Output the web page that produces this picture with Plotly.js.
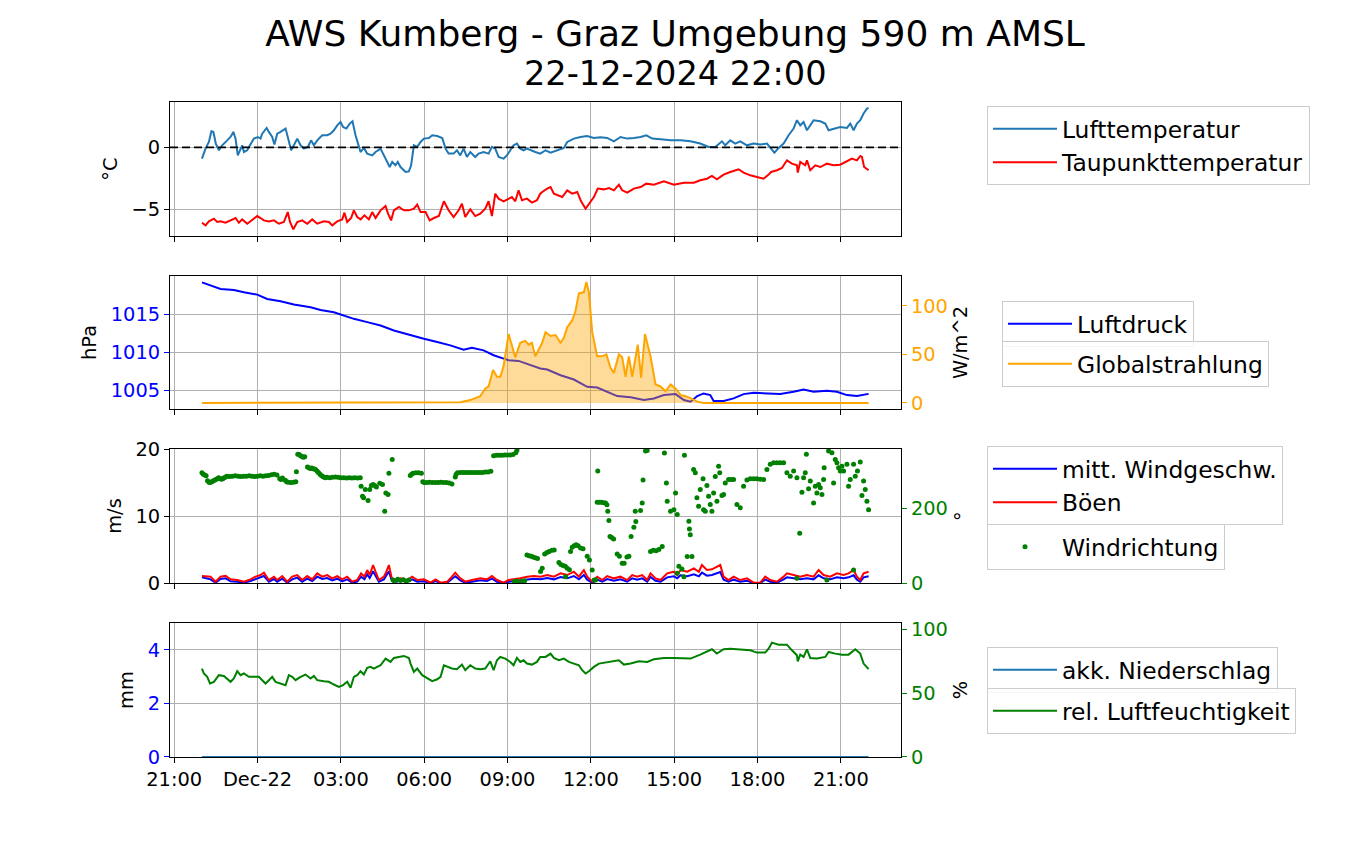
<!DOCTYPE html>
<html>
<head>
<meta charset="utf-8">
<script src="https://cdn.plot.ly/plotly-3.0.1.min.js"></script>
<style>html,body{margin:0;padding:0;background:#fff}#chart{width:1350px;height:850px}</style>
</head>
<body>
<div id="chart"></div>
<script>
// ---- DATA (hours after 2024-12-21 22:00) ----
const tempH = [0,0.13,0.25,0.34,0.41,0.5,0.61,0.73,0.91,1.03,
1.13,1.21,1.29,1.39,1.45,1.51,1.63,1.73,1.87,2.01,
2.11,2.17,2.33,2.41,2.53,2.61,2.71,2.83,3.01,3.09,
3.21,3.31,3.43,3.55,3.67,3.81,3.93,4.03,4.15,4.33,
4.51,4.63,4.75,4.87,4.99,5.08,5.2,5.32,5.42,5.53,
5.65,5.71,5.83,5.95,6.13,6.25,6.43,6.57,6.76,6.85,
6.97,7.05,7.15,7.33,7.45,7.53,7.63,7.75,7.87,7.99,
8.17,8.29,8.47,8.65,8.77,8.88,9.06,9.18,9.3,9.42,
9.54,9.66,9.84,9.96,10.14,10.32,10.44,10.56,10.68,10.86,
10.98,11.22,11.34,11.46,11.58,11.7,11.82,12.0,12.18,12.37,
12.55,12.79,13.03,13.15,13.39,13.63,13.87,14.11,14.35,14.59,
14.83,15.07,15.31,15.55,15.79,16.0,16.21,16.51,16.87,17.23,
17.59,17.94,18.24,18.48,18.72,18.84,19.02,19.2,19.38,19.62,
19.86,20.1,20.34,20.49,20.61,20.76,20.94,21.12,21.3,21.42,
21.54,21.66,21.78,21.9,22.02,22.26,22.44,22.56,22.81,22.98,
23.22,23.34,23.46,23.58,23.7,23.82,23.94,24.0];
const tempV = [-0.91,-0.11,0.43,1.29,1.24,0.30,-0.24,0.16,0.56,0.83,
1.24,0.70,-0.65,-0.11,0.16,-0.38,-0.24,0.16,0.70,0.83,
0.70,1.10,1.56,1.24,0.83,0.22,1.10,1.24,1.51,0.83,
-0.24,0.16,0.70,0.16,-0.11,0.03,0.56,0.16,0.56,0.97,
0.97,1.10,1.37,1.77,2.04,1.64,1.51,1.91,2.10,0.97,
0.16,-0.38,-0.05,-0.51,-0.65,-0.38,-0.11,-0.78,-1.59,-1.18,
-1.45,-1.18,-1.59,-1.99,-1.94,-1.45,0.16,0.03,0.43,0.70,
0.75,0.97,0.91,0.75,-0.11,-0.51,-0.51,-0.24,-0.65,-0.11,
-0.78,-0.38,-0.78,-0.51,-0.38,-0.51,0.03,-0.11,-0.78,-0.91,
-0.65,0.16,0.30,-0.11,-0.24,-0.11,-0.24,-0.38,-0.51,-0.24,
-0.43,-0.24,-0.05,0.43,0.70,0.83,0.91,0.75,0.81,0.75,
0.48,0.83,0.70,0.75,0.83,0.97,0.70,0.65,0.56,0.56,
0.48,0.30,0.03,0.03,0.48,0.16,0.56,0.30,0.48,0.16,
0.30,0.22,0.30,-0.11,-0.43,-0.05,0.30,0.97,1.51,2.18,
1.77,2.04,1.37,1.77,2.18,2.10,1.91,1.37,1.51,1.64,
1.56,1.91,1.37,1.91,2.18,2.72,3.12,3.17];

const dewH = [0,0.13,0.25,0.43,0.55,0.67,0.85,1.03,1.21,1.33,
1.45,1.63,1.81,1.99,2.11,2.23,2.41,2.59,2.77,2.95,
3.09,3.17,3.29,3.43,3.61,3.79,3.97,4.15,4.39,4.57,
4.69,4.87,5.05,5.13,5.23,5.37,5.47,5.59,5.71,5.85,
6.01,6.13,6.25,6.43,6.61,6.70,6.81,6.91,7.09,7.27,
7.45,7.63,7.75,7.87,8.05,8.20,8.35,8.53,8.71,8.88,
9.06,9.24,9.36,9.48,9.66,9.84,10.02,10.20,10.32,10.44,
10.56,10.68,10.86,11.04,11.16,11.28,11.40,11.52,11.70,11.88,
12.06,12.18,12.25,12.43,12.55,12.67,12.79,12.97,13.15,13.33,
13.51,13.65,13.81,13.93,14.11,14.25,14.47,14.65,14.83,15.01,
15.13,15.31,15.55,15.79,16.00,16.27,16.63,16.99,17.35,17.71,
17.94,18.18,18.36,18.54,18.78,19.02,19.32,19.50,19.74,19.98,
20.22,20.40,20.49,20.70,20.88,21.06,21.24,21.42,21.45,21.54,
21.72,21.78,21.90,22.08,22.26,22.50,22.74,22.98,23.22,23.40,
23.58,23.70,23.76,23.84,24.00];
const dewV = [-6.08,-6.29,-5.97,-5.75,-6.02,-5.97,-6.08,-5.89,-5.70,-6.08,
-5.81,-6.16,-5.81,-5.54,-5.70,-5.89,-5.97,-5.89,-6.16,-6.02,
-5.22,-6.02,-6.61,-6.02,-5.89,-6.16,-5.81,-6.16,-5.97,-6.02,
-6.29,-5.97,-5.81,-5.27,-6.02,-5.70,-5.08,-5.62,-5.81,-5.48,
-5.81,-5.22,-5.70,-5.08,-4.73,-5.35,-5.89,-5.08,-4.81,-5.08,
-5.08,-4.95,-4.62,-5.22,-5.22,-5.89,-5.70,-5.54,-4.35,-5.08,
-5.62,-5.08,-4.54,-5.62,-5.00,-5.54,-5.35,-4.95,-4.35,-5.54,
-3.74,-4.14,-4.35,-4.14,-4.01,-4.35,-3.47,-4.27,-4.14,-4.46,
-4.27,-3.74,-3.60,-3.33,-3.20,-3.74,-3.87,-4.01,-3.47,-3.74,
-3.60,-4.35,-4.95,-4.54,-4.01,-3.33,-3.39,-3.28,-3.47,-3.01,
-3.47,-3.66,-3.33,-3.20,-2.93,-3.01,-2.74,-3.01,-2.85,-2.85,
-2.66,-2.53,-2.31,-2.58,-2.20,-1.99,-1.77,-2.04,-2.26,-2.39,
-2.53,-2.20,-1.99,-1.85,-1.67,-1.05,-1.32,-1.45,-2.04,-1.18,
-1.45,-1.05,-1.85,-1.45,-1.59,-1.32,-1.45,-1.40,-1.13,-0.91,
-1.05,-0.70,-0.78,-1.59,-1.85];

const presH = [0,0.31,0.67,1.15,1.51,1.99,2.35,2.83,3.31,3.91,
4.27,4.75,4.99,5.47,5.95,6.43,6.91,7.39,7.99,8.47,
8.94,9.42,9.72,10.14,10.50,10.86,11.04,11.40,11.70,12.18,
12.43,12.91,13.39,13.87,14.23,14.59,14.95,15.43,15.91,16.27,
16.63,17.05,17.35,17.59,17.83,18.06,18.30,18.42,18.78,19.14,
19.50,19.86,20.34,20.82,21.30,21.66,22.02,22.50,22.86,23.22,
23.58,23.94,24.0];
const presV = [1019.25,1018.82,1018.38,1018.25,1017.94,1017.63,1017.06,1016.75,1016.32,1015.96,
1015.61,1015.31,1015.0,1014.43,1013.99,1013.55,1012.89,1012.37,1011.80,1011.36,
1010.92,1010.35,1010.61,1010.26,1009.61,1009.17,1008.95,1008.86,1008.51,1007.85,
1007.72,1006.97,1006.40,1005.44,1005.35,1004.78,1004.21,1004.04,1003.68,1003.90,
1004.34,1004.47,1003.68,1003.46,1004.21,1004.56,1004.34,1003.55,1003.55,1003.90,
1004.47,1004.65,1004.56,1004.47,1004.78,1005.09,1004.78,1004.91,1004.78,1004.34,
1004.21,1004.47,1004.5];

const radH = [0,9.30,9.66,10.02,10.20,10.32,10.48,10.62,10.74,10.86,
11.04,11.16,11.28,11.46,11.64,11.76,11.88,12.00,12.18,12.25,
12.37,12.55,12.73,12.91,13.03,13.15,13.33,13.45,13.57,13.75,
13.84,13.93,14.05,14.23,14.41,14.56,14.71,14.83,15.01,15.13,
15.25,15.37,15.49,15.69,15.81,15.95,16.15,16.33,16.51,16.69,
16.87,17.05,17.23,17.41,17.59,17.83,18.06,24.0];
const radV = [0,0.7,3,7,15,17,34,27,27,38,
71,59,47,62,64,60,62,48,59,62,
73,69,70,62,67,78,85,95,113,114,
124.6,114,73,48,48,50,36,31,50,47,
27,48,27,60,26,71,48,19,17,12,
19,15,8,7,5,1.4,0,0];

const windH = [0,0.31,0.49,0.67,0.85,1.03,1.27,1.51,1.75,1.93,
2.11,2.23,2.41,2.59,2.71,2.89,3.07,3.25,3.43,3.61,
3.79,3.97,4.15,4.33,4.51,4.69,4.87,5.05,5.23,5.41,
5.59,5.73,5.85,5.95,6.04,6.16,6.25,6.37,6.55,6.64,
6.73,6.82,6.91,7.15,7.39,7.57,7.75,7.99,8.23,8.41,
8.59,8.83,9.00,9.12,9.30,9.48,9.72,10.02,10.26,10.44,
10.62,10.86,11.04,11.22,11.46,11.71,11.95,12.19,12.43,12.67,
12.91,13.15,13.39,13.57,13.75,13.87,14.05,14.23,14.41,14.59,
14.83,15.07,15.31,15.49,15.67,15.85,16.03,16.15,16.33,16.51,
16.75,16.99,17.11,17.23,17.47,17.71,17.89,18.00,18.18,18.36,
18.54,18.66,18.78,18.96,19.14,19.38,19.62,19.86,20.10,20.28,
20.46,20.70,20.94,21.06,21.30,21.54,21.78,22.02,22.20,22.38,
22.62,22.86,23.10,23.28,23.46,23.58,23.70,23.82,24.00];
const gustV = [1.04,0.95,0.20,0.95,1.09,0.55,0.45,0.20,0.55,0.95,
1.19,1.54,0.45,0.95,0.45,1.04,0.20,0.95,1.19,0.45,
1.04,0.55,1.44,0.95,1.19,0.70,1.04,0.55,0.95,0.20,
0.45,1.44,0.95,1.94,1.19,2.69,1.69,0.45,0.95,1.69,
2.69,0.95,0.20,0.70,0.45,0.95,0.45,0.55,0.05,0.55,
0.05,0.20,0.95,1.54,0.70,0.20,0.45,0.70,0.55,1.04,
0.45,0.05,0.45,0.55,0.70,0.95,1.04,0.95,1.19,0.95,
1.44,1.19,1.69,0.95,1.94,0.95,0.20,0.95,0.45,1.04,
0.70,0.95,0.45,1.19,0.95,1.19,0.45,1.44,0.70,0.45,
1.44,1.69,1.19,1.94,1.69,2.19,1.69,2.69,1.94,2.04,
2.44,2.69,0.95,0.45,0.95,0.45,0.70,0.05,0.05,0.95,
0.45,0.20,0.95,1.44,1.19,0.95,1.19,0.95,1.94,1.19,
0.95,1.44,1.19,1.44,1.94,0.95,0.45,1.44,1.69];
const meanV = [0.85,0.55,0.05,0.60,0.70,0.25,0.20,0.05,0.30,0.60,
0.80,1.05,0.20,0.60,0.20,0.65,0.05,0.55,0.80,0.20,
0.65,0.30,0.95,0.60,0.75,0.40,0.65,0.25,0.55,0.05,
0.20,0.95,0.55,1.30,0.75,1.75,1.10,0.20,0.55,1.10,
1.75,0.55,0.05,0.40,0.20,0.55,0.20,0.25,0.00,0.30,
0.00,0.05,0.55,1.00,0.40,0.05,0.20,0.40,0.30,0.65,
0.20,0.00,0.20,0.30,0.40,0.55,0.65,0.55,0.75,0.55,
0.90,0.70,1.05,0.55,1.20,0.50,0.05,0.50,0.20,0.60,
0.35,0.55,0.20,0.70,0.50,0.70,0.20,0.90,0.35,0.20,
0.85,1.00,0.70,1.15,1.00,1.30,1.00,1.55,1.10,1.20,
1.45,1.65,0.50,0.20,0.50,0.20,0.35,0.00,0.00,0.50,
0.20,0.05,0.55,0.85,0.70,0.55,0.70,0.55,1.15,0.70,
0.55,0.85,0.70,0.85,1.15,0.50,0.20,0.85,1.00];

const dirH = [0,0.05,0.1,0.15,0.2,0.25,0.3,0.35,0.4,0.45,
0.5,0.55,0.6,0.65,0.7,0.75,0.8,0.85,0.9,1.0,
1.1,1.2,1.3,1.4,1.5,1.6,1.7,1.8,1.9,2.0,
2.1,2.2,2.3,2.4,2.5,2.6,2.7,2.8,2.85,2.9,
3.0,3.05,3.1,3.2,3.3,3.38,3.4,3.45,3.5,3.55,
3.6,3.65,3.7,3.8,3.85,3.9,3.95,4.0,4.05,4.1,
4.15,4.2,4.25,4.3,4.35,4.4,4.45,4.5,4.6,4.7,
4.8,4.9,5.0,5.1,5.2,5.3,5.4,5.5,5.6,5.7,
5.73,5.78,5.82,5.88,5.98,6.04,6.10,6.16,6.22,6.28,
6.40,6.50,6.58,6.62,6.70,6.73,6.85,6.88,6.95,7.05,
7.15,7.25,7.35,7.45,7.50,7.55,7.6,7.7,7.8,7.9,
7.95,8.0,8.1,8.2,8.3,8.4,8.5,8.6,8.7,8.8,
8.9,9.0,9.12,9.15,9.2,9.3,9.4,9.5,9.6,9.7,
9.8,9.9,10.0,10.1,10.2,10.3,10.4,10.5,10.6,10.7,
10.8,10.9,11.0,11.1,11.2,11.3,11.34,11.25,11.35,11.45,
11.55,11.62,11.70,11.78,11.85,11.92,12.0,12.08,12.19,12.25,
12.34,12.42,12.50,12.60,12.68,12.85,12.92,13.00,13.08,13.09,
13.15,13.23,13.27,13.33,13.40,13.47,13.54,13.63,13.72,13.87,
13.95,14.05,14.12,14.17,14.25,14.23,14.30,14.38,14.46,14.53,
14.58,14.61,14.65,14.69,14.75,14.82,14.95,15.03,15.13,15.20,
15.30,15.37,15.45,15.55,15.62,15.60,15.79,15.85,15.88,15.97,
16.03,16.15,16.25,16.35,16.45,16.57,16.65,16.72,16.75,16.87,
16.99,17.05,17.11,17.11,17.17,17.28,17.35,17.37,17.47,17.53,
17.55,17.58,17.64,17.70,17.76,17.82,17.88,17.94,18.04,18.06,
18.12,18.18,18.24,18.30,18.36,18.42,18.48,18.54,18.60,18.64,
18.72,18.78,18.84,18.96,19.05,19.14,19.26,19.38,19.50,19.62,
19.74,19.86,19.98,20.10,20.22,20.34,20.46,20.58,20.70,20.82,
20.94,21.06,21.18,21.30,21.42,21.42,21.52,21.60,21.66,21.72,
21.76,21.84,21.90,22.02,22.08,22.14,22.20,22.26,22.32,22.38,
22.40,22.50,22.56,22.68,22.74,22.80,22.86,22.92,22.98,23.04,
23.10,23.22,23.28,23.34,23.46,23.46,23.52,23.60,23.70,23.76,
23.82,23.88,23.94,24.00];
const dirV = [296,292,290,288,275,271,270,272,274,276,
278,280,283,281,279,280,283,285,287,286,
287,288,287,286,287,287,288,287,286,287,
288,287,288,289,291,292,290,280,278,282,
276,272,271,270,271,272,299,346,345,342,
340,338,339,312,310,308,309,307,306,304,
300,296,292,289,286,284,283,284,283,284,
285,284,283,283,282,283,282,283,282,283,
260,233,229,251,222,251,262,265,262,258,
268,265,193,242,238,295,332,8,6,10,
7,9,5,8,289,292,295,296,296,295,
272,270,270,271,270,270,270,271,270,270,
269,266,285,292,296,297,297,297,297,297,
297,297,297,297,298,298,300,342,343,343,
343,344,344,344,345,350,357,4,5,3,
5,6,75,73,72,70,68,66,31,40,
78,82,85,88,89,55,50,47,45,17,
40,36,85,96,100,103,100,94,92,72,
62,35,8,8,301,217,217,217,216,215,
210,193,168,125,122,118,78,72,53,53,
70,72,125,150,165,193,195,215,277,355,
356,85,88,87,90,98,349,269,220,193,
197,242,184,26,45,38,17,343,71,166,
145,130,71,305,296,229,206,251,280,197,
193,262,233,211,193,242,286,220,314,296,
235,238,269,278,278,278,211,202,260,277,
280,280,280,279,278,305,319,323,323,323,
323,296,287,301,283,13,134,244,283,296,
346,253,274,215,260,242,265,256,238,278,
310,8,355,350,269,332,323,310,301,314,
301,319,260,278,319,35,287,301,325,235,
274,251,220,197];

const precipH = [0,6,12,18,24];
const precipV = [0,0,0,0,0];

const rhH = [0,0.07,0.19,0.29,0.43,0.61,0.79,1.03,1.15,1.27,
1.39,1.51,1.69,1.87,2.05,2.17,2.29,2.41,2.53,2.65,
2.83,3.01,3.13,3.25,3.37,3.55,3.73,3.91,4.03,4.15,
4.39,4.57,4.75,4.93,5.08,5.23,5.35,5.47,5.59,5.71,
5.83,5.95,6.07,6.19,6.31,6.43,6.61,6.79,6.91,7.09,
7.27,7.45,7.51,7.63,7.75,7.93,8.11,8.29,8.47,8.59,
8.71,8.83,9.00,9.18,9.36,9.48,9.66,9.84,10.02,10.20,
10.38,10.50,10.62,10.74,10.92,11.10,11.22,11.34,11.46,11.58,
11.70,11.88,12.06,12.18,12.37,12.55,12.67,12.85,13.03,13.21,
13.39,13.57,13.69,13.81,13.93,14.11,14.29,14.53,14.77,15.01,
15.19,15.43,15.73,16.03,16.27,16.63,16.99,17.35,17.59,17.94,
18.24,18.36,18.54,18.78,19.02,19.38,19.74,19.98,20.28,20.40,
20.52,20.76,21.06,21.24,21.42,21.45,21.54,21.66,21.78,21.90,
22.14,22.44,22.56,22.80,23.04,23.28,23.40,23.52,23.70,23.82,
24.00];
const rhV = [69.3,65.4,62.8,57.6,58.9,64.1,63.5,58.9,61.5,67.2,
64.1,65.4,62.8,62.8,62.8,60.2,57.6,60.2,62.8,58.9,
57.6,56.3,64.1,62.8,60.2,62.8,64.6,61.5,63.5,60.2,
59.4,58.9,56.8,54.9,56.3,58.9,54.2,62.8,64.1,67.2,
64.6,69.8,70.6,69.3,70.6,71.9,77.1,74.5,77.6,78.4,
79.2,77.6,73.2,66.7,69.3,64.1,62.0,59.4,60.9,62.8,
71.9,70.6,69.3,68.8,72.4,68.0,71.9,69.3,68.8,69.3,
75.0,68.0,75.8,78.4,77.1,74.5,71.9,77.6,74.5,75.8,
73.2,72.4,74.5,78.4,78.4,81.0,77.6,75.8,77.1,74.5,
73.2,71.9,68.0,65.4,67.2,70.6,73.2,74.0,75.0,75.8,
72.4,73.2,75.0,74.5,76.6,77.6,77.6,77.6,77.1,80.2,
82.8,84.4,81.0,84.4,84.9,84.4,83.6,81.8,81.8,84.9,
89.6,88.0,88.0,83.6,79.7,75.0,80.2,78.4,84.4,77.6,
77.1,78.4,82.3,81.0,80.2,80.2,82.3,84.4,81.0,73.2,
68.8];

const tickTimes = ['2024-12-21 21:00','2024-12-22 00:00','2024-12-22 03:00','2024-12-22 06:00','2024-12-22 09:00','2024-12-22 12:00','2024-12-22 15:00','2024-12-22 18:00','2024-12-22 21:00'];
const tickLabels = ['21:00','Dec-22','03:00','06:00','09:00','12:00','15:00','18:00','21:00'];
const titleLine1 = 'AWS Kumberg - Graz Umgebung 590 m AMSL';
const titleLine2 = '22-12-2024 22:00';

// ---- helpers ----
const T0 = Date.UTC(2024, 11, 21, 22, 0, 0);
function toTime(h){ return new Date(T0 + Math.round(h*3600000)).toISOString().slice(0,19).replace('T',' '); }
const X = arr => arr.map(toTime);

const FONT = 'DejaVu Sans, Liberation Sans, sans-serif';
const TICK = 19.4, LEG = 23.4;

const traces = [
  {x:X(tempH), y:tempV, name:'Lufttemperatur', type:'scatter', mode:'lines', line:{color:'#1f77b4', width:2}, xaxis:'x', yaxis:'y', legend:'legend'},
  {x:X(dewH), y:dewV, name:'Taupunkttemperatur', type:'scatter', mode:'lines', line:{color:'#ff0000', width:2}, xaxis:'x', yaxis:'y', legend:'legend'},
  {x:X(presH), y:presV, name:'Luftdruck', type:'scatter', mode:'lines', line:{color:'#0000ff', width:2}, xaxis:'x2', yaxis:'y2', legend:'legend2'},
  {x:X(radH), y:radV, name:'Globalstrahlung (Fläche)', type:'scatter', mode:'none', fill:'tozeroy', fillcolor:'rgba(255,165,0,0.4)', showlegend:false, xaxis:'x2', yaxis:'y3', hoverinfo:'skip'},
  {x:X(radH), y:radV, name:'Globalstrahlung', type:'scatter', mode:'lines', line:{color:'#ffa500', width:2}, xaxis:'x2', yaxis:'y3', legend:'legend3'},
  {x:X(windH), y:meanV, name:'mitt. Windgeschw.', type:'scatter', mode:'lines', line:{color:'#0000ff', width:2}, xaxis:'x3', yaxis:'y4', legend:'legend4'},
  {x:X(windH), y:gustV, name:'Böen', type:'scatter', mode:'lines', line:{color:'#ff0000', width:2}, xaxis:'x3', yaxis:'y4', legend:'legend4'},
  {x:X(dirH), y:dirV, name:'Windrichtung', type:'scatter', mode:'markers', marker:{color:'#008000', size:5}, xaxis:'x3', yaxis:'y5', legend:'legend5'},
  {x:X(precipH), y:precipV, name:'akk. Niederschlag', type:'scatter', mode:'lines', line:{color:'#1f77b4', width:2}, xaxis:'x4', yaxis:'y6', legend:'legend6'},
  {x:X(rhH), y:rhV, name:'rel. Luftfeuchtigkeit', type:'scatter', mode:'lines', line:{color:'#008000', width:2}, xaxis:'x4', yaxis:'y7', legend:'legend7'}
];

const xRange = ['2024-12-21 20:51', '2024-12-22 23:10'];
function xa(anchor, labels){
  return {type:'date', range:xRange, anchor:anchor, domain:[0,1], tickmode:'array', tickvals:tickTimes, ticktext:tickLabels,
    showticklabels:labels, ticks:'outside', ticklen:5, tickwidth:1, tickcolor:'#000',
    showgrid:true, gridcolor:'#b0b0b0', gridwidth:1, showline:true, linecolor:'#000', linewidth:1, mirror:true,
    zeroline:false, tickfont:{size:TICK, color:'#000'}, automargin:false};
}
function ya(o){
  const base = {ticks:'outside', ticklen:5, tickwidth:1, zeroline:false, automargin:false, tickmode:'array'};
  return Object.assign(base, o);
}
const D1=[0.7954,1.0], D2=[0.5313,0.7344], D3=[0.2656,0.4702], D4=[0,0.2046];

function legend(x, y){
  return {x:x, y:y, xanchor:'left', yanchor:'top', bgcolor:'rgba(255,255,255,0.8)', bordercolor:'#cccccc', borderwidth:1,
    font:{size:LEG, color:'#000', family:FONT}, itemwidth:64, tracegroupgap:0};
}

const layout = {
  width:1350, height:850,
  margin:{l:170, r:449, t:102, b:93},
  paper_bgcolor:'#fff', plot_bgcolor:'#fff',
  font:{family:FONT, color:'#000', size:TICK},
  showlegend:true,
  title:{text:titleLine1, x:0.5, xref:'container', xanchor:'center',
    y:1-33/850, yref:'container', yanchor:'middle', font:{size:36, color:'#000', family:FONT}},
  annotations:[{text:titleLine2, xref:'paper', yref:'paper', x:(675-170)/731, y:(757-73)/655, xanchor:'center', yanchor:'middle',
    showarrow:false, font:{size:33.6, color:'#000', family:FONT}}],
  xaxis: xa('y', false),
  xaxis2: Object.assign(xa('y2', false), {matches:'x'}),
  xaxis3: Object.assign(xa('y4', false), {matches:'x'}),
  xaxis4: Object.assign(xa('y6', true), {matches:'x'}),
  yaxis: ya({domain:D1, anchor:'x', range:[-7.15,3.65], tickvals:[-5,0], tickcolor:'#000', tickfont:{size:TICK,color:'#000'},
    showgrid:true, gridcolor:'#b0b0b0', showline:true, linecolor:'#000', mirror:true,
    title:{text:'°C', font:{size:TICK,color:'#000'}, standoff:8}}),
  yaxis2: ya({domain:D2, anchor:'x2', range:[1002.5,1020.1], tickvals:[1005,1010,1015], tickcolor:'#0000ff', tickfont:{size:TICK,color:'#0000ff'},
    showgrid:true, gridcolor:'#b0b0b0', showline:true, linecolor:'#000', mirror:true,
    title:{text:'hPa', font:{size:TICK,color:'#000'}, standoff:8}}),
  yaxis3: ya({overlaying:'y2', side:'right', anchor:'x2', range:[-6.2,130.8], tickvals:[0,50,100], tickcolor:'#ffa500', tickfont:{size:TICK,color:'#ffa500'},
    showgrid:false, showline:false,
    title:{text:'W/m^2', font:{size:TICK,color:'#000'}, standoff:6}}),
  yaxis4: ya({domain:D3, anchor:'x3', range:[0,20], tickvals:[0,10,20], tickcolor:'#000', tickfont:{size:TICK,color:'#000'},
    showgrid:true, gridcolor:'#b0b0b0', showline:true, linecolor:'#000', mirror:true,
    title:{text:'m/s', font:{size:TICK,color:'#000'}, standoff:8}}),
  yaxis5: ya({overlaying:'y4', side:'right', anchor:'x3', range:[0,360], tickvals:[0,200], tickcolor:'#008000', tickfont:{size:TICK,color:'#008000'},
    showgrid:false, showline:false,
    title:{text:'°', font:{size:TICK,color:'#000'}, standoff:8}}),
  yaxis6: ya({domain:D4, anchor:'x4', range:[0,5], tickvals:[0,2,4], tickcolor:'#0000ff', tickfont:{size:TICK,color:'#0000ff'},
    showgrid:true, gridcolor:'#b0b0b0', showline:true, linecolor:'#000', mirror:true,
    title:{text:'mm', font:{size:TICK,color:'#000'}, standoff:8}}),
  yaxis7: ya({overlaying:'y6', side:'right', anchor:'x4', range:[0,105], tickvals:[0,50,100], tickcolor:'#008000', tickfont:{size:TICK,color:'#008000'},
    showgrid:false, showline:false,
    title:{text:'%', font:{size:TICK,color:'#000'}, standoff:6}}),
  legend: legend((987-170)/731, (757-106)/655),
  legend2: legend((1002-170)/731, (757-301)/655),
  legend3: legend((1002-170)/731, (757-341)/655),
  legend4: legend((987-170)/731, (757-446)/655),
  legend5: legend((987-170)/731, (757-524)/655),
  legend6: legend((987-170)/731, (757-647)/655),
  legend7: legend((987-170)/731, (757-688)/655),
  shapes:[{type:'line', xref:'x domain', x0:0, x1:1, yref:'y', y0:0, y1:0, line:{color:'#000', width:1.8, dash:'8px,4px'}, layer:'above'}]
};

Plotly.newPlot('chart', traces, layout, {staticPlot:true, displayModeBar:false});
</script>
</body>
</html>
